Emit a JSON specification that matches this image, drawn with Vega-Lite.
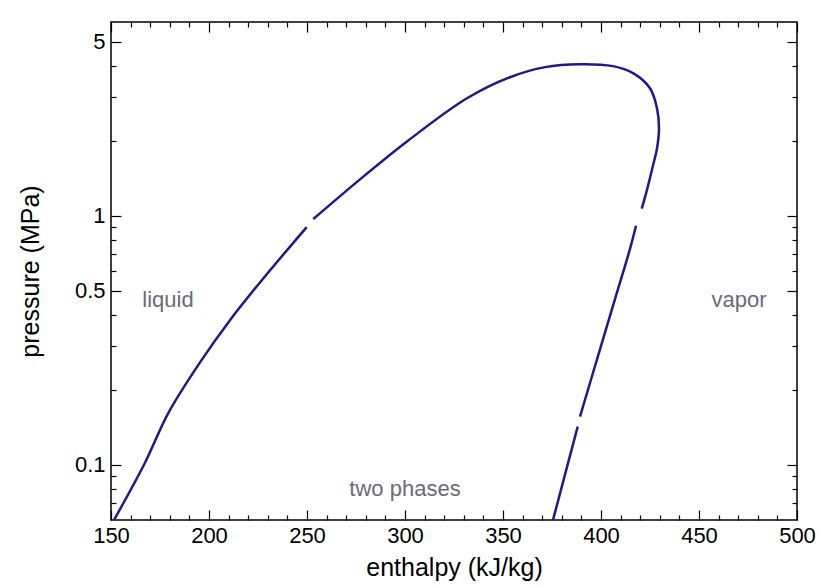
{
  "$schema": "https://vega.github.io/schema/vega-lite/v6.json",
  "autosize": "none",
  "width": 686,
  "height": 498,
  "padding": {"left": 111, "top": 22, "right": 33, "bottom": 67},
  "background": "white",
  "config": {
    "view": {"stroke": "#000000", "strokeWidth": 1.5},
    "font": "Liberation Sans",
    "axis": {"domain": false, "grid": false, "tickColor": "#000000", "tickWidth": 1.2, "labelColor": "#000000", "titleColor": "#000000", "labelFont": "Liberation Sans", "titleFont": "Liberation Sans", "titleFontWeight": "normal", "labelOverlap": false, "labelFlush": false}
  },
  "datasets": {
    "curve": [
      {"i": 1, "seg": "a", "h": 151.53, "p": 0.0600},
      {"i": 2, "seg": "a", "h": 167.35, "p": 0.1019},
      {"i": 3, "seg": "a", "h": 179.08, "p": 0.1606},
      {"i": 4, "seg": "a", "h": 195.41, "p": 0.2578},
      {"i": 5, "seg": "a", "h": 210.71, "p": 0.3808},
      {"i": 6, "seg": "a", "h": 227.04, "p": 0.5520},
      {"i": 7, "seg": "a", "h": 249.85, "p": 0.9004},
      {"i": 8, "seg": "b", "h": 253.21, "p": 0.9700},
      {"i": 10, "seg": "b", "h": 277.04, "p": 1.4000},
      {"i": 11, "seg": "b", "h": 301.02, "p": 1.9877},
      {"i": 12, "seg": "b", "h": 331.63, "p": 2.963},
      {"i": 13, "seg": "b", "h": 353.57, "p": 3.601},
      {"i": 14, "seg": "b", "h": 371.43, "p": 3.953},
      {"i": 15, "seg": "b", "h": 389.29, "p": 4.063},
      {"i": 16, "seg": "b", "h": 406.12, "p": 3.989},
      {"i": 17, "seg": "b", "h": 416.33, "p": 3.738},
      {"i": 18, "seg": "b", "h": 425.0, "p": 3.252},
      {"i": 19, "seg": "b", "h": 428.57, "p": 2.701},
      {"i": 20, "seg": "b", "h": 429.59, "p": 2.243},
      {"i": 21, "seg": "b", "h": 428.57, "p": 1.863},
      {"i": 22, "seg": "b", "h": 426.53, "p": 1.591},
      {"i": 23, "seg": "b", "h": 422.96, "p": 1.2265},
      {"i": 24, "seg": "b", "h": 420.77, "p": 1.0672},
      {"i": 25, "seg": "c", "h": 417.86, "p": 0.9113},
      {"i": 26, "seg": "c", "h": 414.80, "p": 0.7361},
      {"i": 27, "seg": "c", "h": 407.14, "p": 0.4626},
      {"i": 28, "seg": "c", "h": 399.49, "p": 0.2909},
      {"i": 29, "seg": "c", "h": 389.29, "p": 0.1562},
      {"i": 30, "seg": "d", "h": 388.11, "p": 0.1423},
      {"i": 31, "seg": "d", "h": 375.51, "p": 0.0600}
    ],
    "labels": [
      {"h": 179.1, "p": 0.4585, "text": "liquid"},
      {"h": 470.4, "p": 0.4585, "text": "vapor"},
      {"h": 300.0, "p": 0.080, "text": "two phases"}
    ]
  },
  "layer": [
    {
      "data": {"name": "curve"},
      "mark": {"type": "line", "color": "#1e1a8c", "strokeWidth": 2.5, "clip": true, "interpolate": "catmull-rom"},
      "encoding": {
        "x": {
          "field": "h", "type": "quantitative",
          "scale": {"domain": [150, 500], "nice": false, "zero": false},
          "axis": {
            "orient": "bottom",
            "title": "enthalpy (kJ/kg)",
            "values": [150,160,170,180,190,200,210,220,230,240,250,260,270,280,290,300,310,320,330,340,350,360,370,380,390,400,410,420,430,440,450,460,470,480,490,500],
            "labelExpr": "datum.value % 50 === 0 ? datum.label : ''",
            "tickSize": {"condition": {"test": "datum.value % 50 === 0", "value": -10}, "value": -5},
            "labelPadding": 15,
            "labelFontSize": 22,
            "titleFontSize": 25,
            "titlePadding": 4
          }
        },
        "y": {
          "field": "p", "type": "quantitative",
          "scale": {"type": "log", "domain": [0.06, 6], "nice": false, "zero": false},
          "axis": {
            "orient": "left",
            "title": "pressure (MPa)",
            "values": [0.07,0.08,0.09,0.1,0.2,0.3,0.4,0.5,0.6,0.7,0.8,0.9,1,2,3,4,5],
            "labelExpr": "indexof([0.1,0.5,1,5], datum.value) >= 0 ? datum.label : ''",
            "format": "~g",
            "tickSize": {"condition": {"test": "indexof([0.1,0.5,1,5], datum.value) >= 0", "value": -10}, "value": -5},
            "labelPadding": 16,
            "labelFontSize": 22,
            "titleFontSize": 25,
            "titlePadding": 31
          }
        },
        "detail": {"field": "seg"},
        "order": {"field": "i", "type": "quantitative"}
      }
    },
    {
      "data": {"name": "curve"},
      "mark": {"type": "line", "opacity": 0},
      "encoding": {
        "x": {
          "field": "h", "type": "quantitative",
          "axis": {
            "orient": "top", "title": null, "labels": false,
            "values": [150,160,170,180,190,200,210,220,230,240,250,260,270,280,290,300,310,320,330,340,350,360,370,380,390,400,410,420,430,440,450,460,470,480,490,500],
            "tickSize": {"condition": {"test": "datum.value % 50 === 0", "value": -10}, "value": -5}
          }
        },
        "y": {
          "field": "p", "type": "quantitative",
          "axis": {
            "orient": "right", "title": null, "labels": false,
            "values": [0.07,0.08,0.09,0.1,0.2,0.3,0.4,0.5,0.6,0.7,0.8,0.9,1,2,3,4,5],
            "tickSize": {"condition": {"test": "indexof([0.1,0.5,1,5], datum.value) >= 0", "value": -10}, "value": -5}
          }
        },
        "detail": {"field": "seg"},
        "order": {"field": "i", "type": "quantitative"}
      }
    },
    {
      "data": {"name": "labels"},
      "mark": {"type": "text", "fontSize": 22, "color": "#6b6b78", "font": "Liberation Sans", "align": "center", "baseline": "middle"},
      "encoding": {
        "x": {"field": "h", "type": "quantitative", "axis": null},
        "y": {"field": "p", "type": "quantitative", "axis": null},
        "text": {"field": "text"}
      }
    }
  ],
  "resolve": {"axis": {"x": "independent", "y": "independent"}}
}
